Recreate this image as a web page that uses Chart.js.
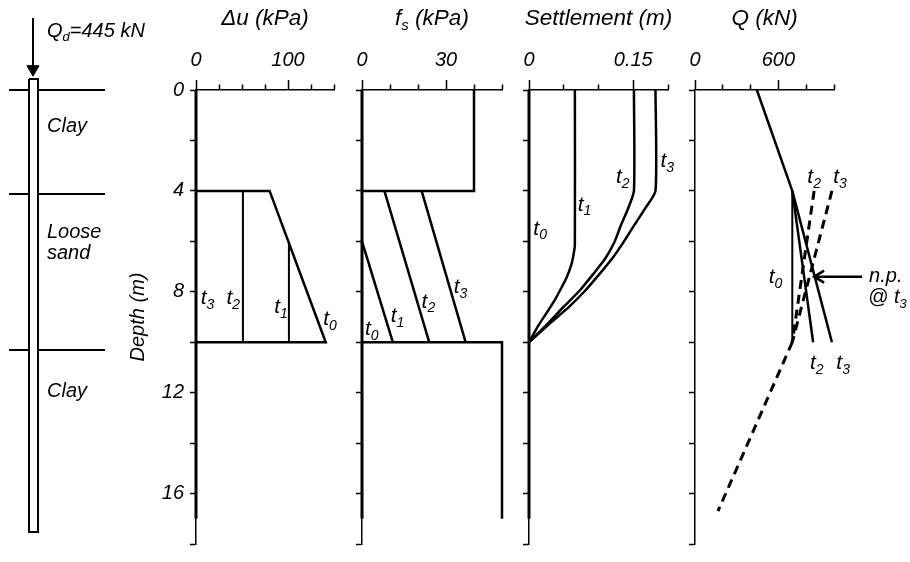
<!DOCTYPE html>
<html lang="en">
<head>
  <meta charset="UTF-8">
  <title>Downdrag profiles</title>
  <script src="https://cdn.jsdelivr.net/npm/chart.js"></script>
  <style>
    body {
      margin: 0;
      background: #fff;
      width: 910px;
      height: 562px;
      position: relative;
      overflow: hidden;
    }
    canvas {
      position: absolute;
      top: 0;
    }
  </style>
</head>
<body>
  <canvas id="pile" width="190" height="562" style="left:0"></canvas>
  <canvas id="du" width="238" height="562" style="left:126px"></canvas>
  <canvas id="fs" width="240" height="562" style="left:292px"></canvas>
  <canvas id="settle" width="239" height="562" style="left:459px"></canvas>
  <canvas id="load" width="285" height="562" style="left:625px"></canvas>

  <script>
    // soil profile
    const layerDepths = [0, 4, 10];
    const layerNames = [['Clay'], ['Loose', 'sand'], ['Clay']];
    const pileTop = -0.42;
    const pileTip = 17;
    const loadKN = 445;

    // excess pore pressure, kPa
    const duT0Depth = [4, 4, 10, 10];
    const duT0 = [0, 80, 141, 0];
    const duT1Depth = [6, 10];
    const duT1 = [101, 101];
    const duT2Depth = [4, 10];
    const duT2 = [51, 51];
    const duT3Depth = [0, 17];
    const duT3 = [0, 0];

    // shaft friction, kPa
    const fsClayTopDepth = [0, 4, 4];
    const fsClayTop = [40, 40, 0];
    const fsClayBotDepth = [10, 10, 17];
    const fsClayBot = [0, 50, 50];
    const fsT0Depth = [0, 17];
    const fsT0 = [0, 0];
    const fsT1Depth = [6, 10];
    const fsT1 = [0, 11];
    const fsT2Depth = [4, 10];
    const fsT2 = [8, 24];
    const fsT3Depth = [4, 10];
    const fsT3 = [21.3, 37];

    // settlement, m
    const sT0Depth = [0, 17];
    const sT0 = [0, 0];
    const sT1Depth = [0, 6.15, 6.54, 6.92, 7.44, 7.82, 8.33, 8.85, 9.36, 10];
    const sT1 = [0.066, 0.066, 0.064, 0.061, 0.054, 0.047, 0.037, 0.025, 0.013, 0];
    const sT2Depth = [0, 4, 4.74, 5.38, 6.03, 6.67, 7.31, 7.95, 8.59, 9.23, 10];
    const sT2 = [0.151, 0.151, 0.142, 0.132, 0.123, 0.110, 0.092, 0.073, 0.050, 0.028, 0];
    const sT3Depth = [0, 4, 4.74, 5.38, 6.03, 6.67, 7.31, 7.95, 8.59, 9.23, 10];
    const sT3 = [0.182, 0.182, 0.166, 0.151, 0.136, 0.120, 0.101, 0.081, 0.058, 0.031, 0];

    // axial load, kN
    const qTopDepth = [0, 4];
    const qTop = [445, 700];
    const qT0Depth = [4, 10];
    const qT0 = [700, 700];
    const qT2Depth = [4, 10];
    const qT2 = [700, 850];
    const qT3Depth = [4, 10];
    const qT3 = [700, 985];
    const qT2dDepth = [4, 10];
    const qT2d = [857, 700];
    const qT3dDepth = [4, 10];
    const qT3d = [985, 700];
    const qTipDepth = [10, 16.7];
    const qTip = [700, 165];
    const npDepth = 7.4;
    const npLoad = 857;

    const FONT = '"Liberation Sans", Arial, Helvetica, sans-serif';
    Chart.defaults.font.family = FONT;
    Chart.defaults.font.style = 'italic';
    Chart.defaults.font.size = 20;
    Chart.defaults.color = '#000';

    function richText(ctx, x, y, parts, size, align) {
      const big = 'italic ' + size + 'px ' + FONT;
      const small = 'italic ' + Math.round(size * 0.65) + 'px ' + FONT;
      let w = 0;
      parts.forEach(p => { ctx.font = p[1] ? small : big; w += ctx.measureText(p[0]).width; });
      let cx = align === 'left' ? x : x - w / 2;
      ctx.save();
      ctx.textBaseline = 'middle';
      ctx.textAlign = 'left';
      ctx.fillStyle = '#000';
      parts.forEach(p => {
        ctx.font = p[1] ? small : big;
        ctx.fillText(p[0], cx, y + (p[1] ? size * 0.32 : 0));
        cx += ctx.measureText(p[0]).width;
      });
      ctx.restore();
    }

    function line(vals, depths, extra) {
      return Object.assign({
        data: vals.map((v, i) => ({ x: v, y: depths[i] })),
        showLine: true,
        pointRadius: 0,
        borderColor: '#000',
        borderWidth: 2.5,
        fill: false,
        clip: false
      }, extra || {});
    }

    const dashed = { borderDash: [9, 6], borderWidth: 3 };
    const fmt = v => String(Math.round(v * 1000) / 1000);

    function makePanel(id, cfg) {
      const near = (v, list) => list.some(l => Math.abs(l - v) < 1e-9);
      const notes = {
        id: 'notes',
        afterDraw(chart) {
          const c = chart.ctx, a = chart.chartArea;
          const sx = chart.scales.x, sy = chart.scales.y;
          richText(c, (a.left + a.right) / 2, 19, cfg.title, 22.5, 'center');
          cfg.labels.forEach(l => richText(c, sx.getPixelForValue(l[1]), sy.getPixelForValue(l[2]),
            [['t', 0], [l[0], 1]], 21, 'center'));
          if (cfg.extra) cfg.extra(chart);
        }
      };
      return new Chart(document.getElementById(id), {
        type: 'scatter',
        data: { datasets: cfg.datasets },
        options: {
          responsive: false,
          animation: false,
          devicePixelRatio: 1,
          layout: { autoPadding: false, padding: { left: 0, right: cfg.right, top: 0, bottom: 4 } },
          plugins: { legend: { display: false }, tooltip: { enabled: false } },
          scales: {
            x: {
              type: 'linear',
              position: 'top',
              min: 0,
              max: cfg.max,
              afterFit: s => { s.height = 90; },
              border: { display: true, color: '#000', width: 1.5 },
              grid: {
                drawOnChartArea: false,
                drawTicks: true,
                tickLength: 10,
                tickWidth: 1.5,
                tickColor: '#000',
                tickBorderDash: c => (c.tick && near(c.tick.value, cfg.major)) ? [] : [0, 4.5, 6, 100]
              },
              ticks: {
                stepSize: cfg.step,
                autoSkip: false,
                maxRotation: 0,
                padding: 8,
                callback: v => near(v, cfg.major) ? fmt(v) : ''
              }
            },
            y: {
              type: 'linear',
              reverse: true,
              min: 0,
              max: 18,
              afterFit: s => { s.width = 70; },
              border: { display: true, color: '#000', width: 1.5 },
              grid: { drawOnChartArea: false, tickLength: 6, tickWidth: 1.5, tickColor: '#000' },
              ticks: {
                stepSize: 2,
                autoSkip: false,
                padding: 6,
                callback: v => (cfg.showY && v % 4 === 0) ? String(v) : ''
              },
              title: { display: !!cfg.showY, text: 'Depth (m)', padding: 0 }
            }
          }
        },
        plugins: [notes]
      });
    }

    // pile and soil layers
    const groundL = layerDepths.map(d => line([9, 29], [d, d], { borderWidth: 2 }));
    const groundR = layerDepths.map(d => line([38, 105], [d, d], { borderWidth: 2 }));
    new Chart(document.getElementById('pile'), {
      type: 'scatter',
      data: {
        datasets: [
          ...groundL, ...groundR,
          line([29, 38, 38, 29, 29], [pileTop, pileTop, pileTip, pileTip, pileTop], { borderWidth: 2 }),
          line([33, 33], [-2.77, -0.8], {
            borderWidth: 2,
            pointRadius: [0, 7],
            pointStyle: 'triangle',
            rotation: 180,
            pointBackgroundColor: '#000',
            pointBorderColor: '#000',
            pointBorderWidth: 1
          })
        ]
      },
      options: {
        responsive: false,
        animation: false,
        devicePixelRatio: 1,
        layout: { autoPadding: false, padding: { left: 0, right: 0, top: 0, bottom: 4 } },
        plugins: { legend: { display: false }, tooltip: { enabled: false } },
        scales: {
          x: { type: 'linear', min: 0, max: 190, display: false },
          y: { type: 'linear', reverse: true, min: -90 / 26, max: 18, display: false }
        }
      },
      plugins: [{
        id: 'soilText',
        afterDraw(chart) {
          const c = chart.ctx, sy = chart.scales.y;
          richText(c, 47, sy.getPixelForValue(-2.27), [['Q', 0], ['d', 1], ['=' + loadKN + ' kN', 0]], 20, 'left');
          const textDepths = [[1.42], [5.46, 6.27], [11.6]];
          layerNames.forEach((names, i) => names.forEach((n, j) =>
            richText(c, 47, sy.getPixelForValue(textDepths[i][j]), [[n, 0]], 20, 'left')));
        }
      }]
    });

    makePanel('du', {
      max: 150, step: 25, major: [0, 100], right: 30, showY: true,
      title: [['\u0394u (kPa)', 0]],
      datasets: [
        line(duT0, duT0Depth),
        line(duT1, duT1Depth, { borderWidth: 2 }),
        line(duT2, duT2Depth, { borderWidth: 2 }),
        line(duT3, duT3Depth, { borderWidth: 3 })
      ],
      labels: [['3', 12.5, 8.27], ['2', 40.5, 8.27], ['1', 92.4, 8.6], ['0', 145.6, 9.1]]
    });

    makePanel('fs', {
      max: 50, step: 10, major: [0, 30], right: 30,
      title: [['f', 0], ['s', 1], [' (kPa)', 0]],
      datasets: [
        line(fsClayTop, fsClayTopDepth),
        line(fsClayBot, fsClayBotDepth),
        line(fsT0, fsT0Depth, { borderWidth: 3 }),
        line(fsT1, fsT1Depth),
        line(fsT2, fsT2Depth),
        line(fsT3, fsT3Depth)
      ],
      labels: [['0', 3.5, 9.49], ['1', 12.7, 8.97], ['2', 23.7, 8.4], ['3', 35.2, 7.82]]
    });

    makePanel('settle', {
      max: 0.2, step: 0.05, major: [0, 0.15], right: 30,
      title: [['Settlement (m)', 0]],
      datasets: [
        line(sT0, sT0Depth, { borderWidth: 3 }),
        line(sT1, sT1Depth, { tension: 0.2 }),
        line(sT2, sT2Depth, { tension: 0.2 }),
        line(sT3, sT3Depth, { tension: 0.2 })
      ],
      labels: [['0', 0.016, 5.5], ['1', 0.08, 4.55], ['2', 0.135, 3.46], ['3', 0.199, 2.82]]
    });

    makePanel('load', {
      max: 1000, step: 200, major: [0, 600], right: 76,
      title: [['Q (kN)', 0]],
      datasets: [
        line(qTop, qTopDepth),
        line(qT0, qT0Depth, { borderWidth: 2 }),
        line(qT2, qT2Depth),
        line(qT3, qT3Depth),
        line(qT2d, qT2dDepth, dashed),
        line(qT3d, qT3dDepth, dashed),
        line(qTip, qTipDepth, dashed)
      ],
      labels: [['2', 857, 3.46], ['3', 1043, 3.46], ['0', 579, 7.44], ['2', 876, 10.83], ['3', 1066, 10.83]],
      extra(chart) {
        const c = chart.ctx, sx = chart.scales.x, sy = chart.scales.y;
        const y = sy.getPixelForValue(npDepth);
        const x0 = sx.getPixelForValue(npLoad);
        const x1 = x0 + 48;
        c.save();
        c.strokeStyle = '#000';
        c.lineWidth = 2.5;
        c.beginPath();
        c.moveTo(x1, y);
        c.lineTo(x0, y);
        c.moveTo(x0 + 10, y - 6);
        c.lineTo(x0, y);
        c.lineTo(x0 + 10, y + 6);
        c.stroke();
        c.restore();
        richText(c, x1 + 7, y, [['n.p.', 0]], 20, 'left');
        richText(c, x1 + 6, y + 21, [['@ t', 0], ['3', 1]], 20, 'left');
      }
    });
  </script>
</body>
</html>
